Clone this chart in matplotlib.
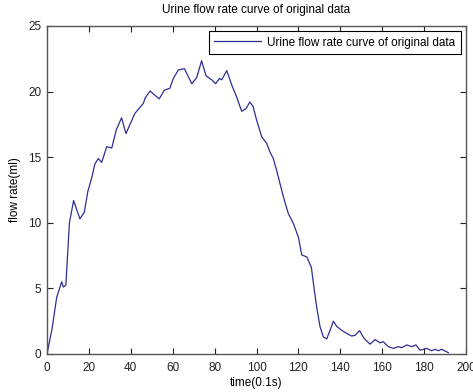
import matplotlib
matplotlib.use("Agg")
import matplotlib.pyplot as plt

plt.rcParams['font.family'] = ['Liberation Sans', 'DejaVu Sans']

# Sample time (units of 0.1 s) and measured urine flow rate (ml)
time = [0, 2.5, 4.6, 7.0, 7.8, 9.0, 10.7, 12.7, 15.7, 17.8, 19.5, 21.3, 22.9,
        24.5, 26.1, 28.5, 30.9, 33.1, 35.6, 37.7, 39.6, 42.0, 44.4, 46.0, 46.8,
        49.2, 51.3, 53.6, 56.0, 58.6, 60.3, 62.7, 65.6, 69.1, 71.4, 73.8, 75.9,
        78.6, 80.5, 82.3, 83.4, 85.8, 88.2, 90.5, 92.9, 95.0, 96.8, 98.3, 100.1,
        102.5, 104.9, 106.4, 108.0, 109.6, 111.2, 112.8, 115.2, 117.6, 120.0,
        121.6, 124.0, 126.2, 127.4, 128.7, 130.3, 131.9, 133.5, 135.1, 136.7,
        138.3, 140.7, 143.1, 145.4, 147.0, 149.2, 151.3, 154.2, 156.6, 159.0,
        160.5, 162.9, 165.3, 167.7, 169.3, 171.7, 174.1, 176.1, 178.0, 179.9,
        181.2, 183.6, 185.2, 186.8, 188.4, 190.0, 191.6]
flow = [0, 2.0, 4.3, 5.5, 5.1, 5.25, 10.0, 11.7, 10.3, 10.8, 12.4, 13.4, 14.5,
        14.9, 14.6, 15.8, 15.7, 17.1, 18.0, 16.8, 17.5, 18.35, 18.8, 19.1, 19.5,
        20.05, 19.75, 19.45, 20.1, 20.25, 21.0, 21.65, 21.75, 20.6, 21.05, 22.35,
        21.2, 20.9, 20.6, 21.0, 20.9, 21.6, 20.5, 19.6, 18.5, 18.7, 19.2, 18.9,
        17.8, 16.55, 16.05, 15.4, 14.9, 14.0, 13.0, 12.0, 10.7, 9.95, 8.9, 7.55,
        7.4, 6.6, 5.1, 3.6, 2.1, 1.3, 1.15, 1.8, 2.5, 2.1, 1.8, 1.57, 1.37, 1.42,
        1.78, 1.2, 0.75, 1.1, 0.85, 0.94, 0.56, 0.43, 0.56, 0.48, 0.69, 0.56,
        0.69, 0.3, 0.36, 0.43, 0.25, 0.36, 0.25, 0.36, 0.23, 0.1]

x_ticks = [0, 20, 40, 60, 80, 100, 120, 140, 160, 180, 200]
y_ticks = [0, 5, 10, 15, 20, 25]

fig = plt.figure(figsize=(4.73, 3.92), dpi=100)
ax = fig.add_axes([47 / 473, 1 - 354 / 392, 419 / 473, 328 / 392])

ax.plot(time, flow, color='#2e2e96', linewidth=0.9,
        label='Urine flow rate curve of original data')

ax.set_xlim(0, 200)
ax.set_ylim(0, 25)
ax.set_xticks(x_ticks)
ax.set_yticks(y_ticks)
ax.tick_params(axis='both', direction='in', length=4, width=0.8, top=True,
               right=True, labelsize=8.5, colors='#222222')
ax.tick_params(axis='x', pad=6)
ax.tick_params(axis='y', pad=4)
for side in ax.spines.values():
    side.set_color('#555555')
    side.set_linewidth(1.0)

ax.set_title('Urine flow rate curve of original data', fontsize=8.5, pad=9)
ax.set_xlabel('time(0.1s)', fontsize=8.5, labelpad=2)
ax.set_ylabel('flow rate(ml)', fontsize=8.5, labelpad=5)

leg = ax.legend(loc='upper right', fontsize=8.5, fancybox=False, framealpha=1,
                edgecolor='black', borderaxespad=0.45, handlelength=4.0,
                handletextpad=0.5, borderpad=0.45)
leg.get_frame().set_linewidth(0.8)

fig.savefig('out.png', dpi=100)
